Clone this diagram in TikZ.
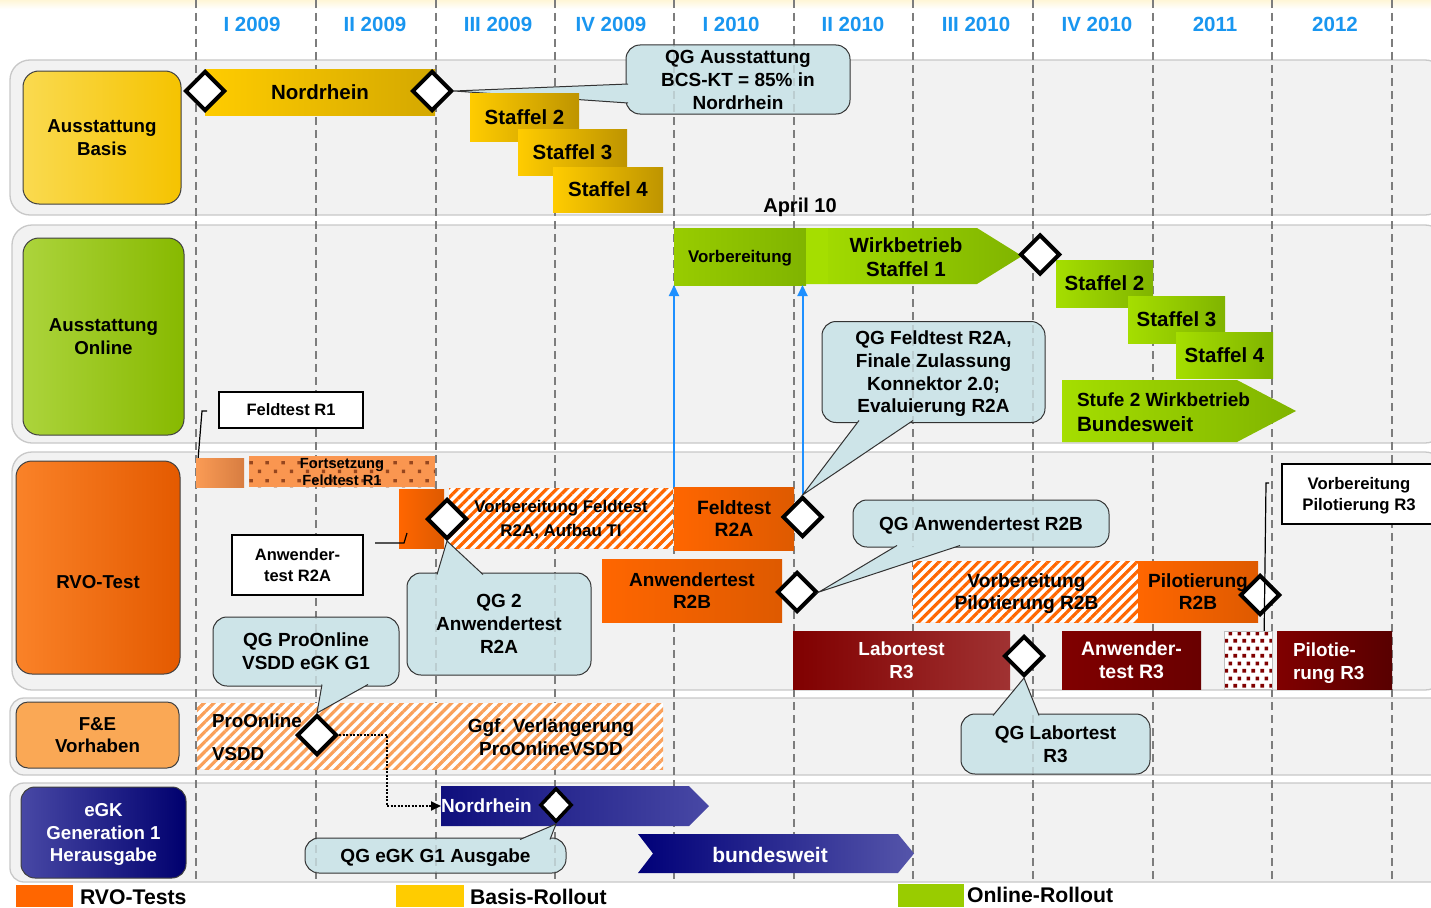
\documentclass[tikz,border=0pt]{standalone}
\usepackage{fontspec}
\setmainfont{Liberation Sans}
\usetikzlibrary{shapes.geometric,arrows.meta,patterns,patterns.meta,calc}
\definecolor{lanefill}{RGB}{242,242,242}
\definecolor{lanebd}{RGB}{200,200,200}
\definecolor{hdrblue}{RGB}{25,150,240}
\definecolor{gridgray}{RGB}{125,125,125}
\definecolor{basisL}{RGB}{250,218,80}
\definecolor{basisR}{RGB}{245,195,0}
\definecolor{yelL}{RGB}{255,204,0}
\definecolor{yelR}{RGB}{212,168,0}
\definecolor{yelR2}{RGB}{190,148,0}
\definecolor{onlL}{RGB}{172,212,60}
\definecolor{onlR}{RGB}{135,185,0}
\definecolor{grnL}{RGB}{165,222,0}
\definecolor{grnR}{RGB}{128,180,0}
\definecolor{grnV}{RGB}{152,204,0}
\definecolor{rvoL}{RGB}{250,130,40}
\definecolor{rvoR}{RGB}{228,90,0}
\definecolor{orL}{RGB}{255,102,0}
\definecolor{orR}{RGB}{222,90,0}
\definecolor{salL}{RGB}{250,155,85}
\definecolor{salR}{RGB}{215,125,65}
\definecolor{salF}{RGB}{250,150,80}
\definecolor{salDot}{RGB}{150,70,30}
\definecolor{feBox}{RGB}{250,168,85}
\definecolor{feHatch}{RGB}{250,160,90}
\definecolor{hatchOr}{RGB}{255,102,0}
\definecolor{cofill}{RGB}{205,228,232}
\definecolor{drL}{RGB}{128,0,0}
\definecolor{drLabR}{RGB}{160,50,50}
\definecolor{drR}{RGB}{105,0,0}
\definecolor{drR2}{RGB}{88,0,0}
\definecolor{navyL}{RGB}{15,15,125}
\definecolor{navyR}{RGB}{72,72,165}
\definecolor{nvtwoL}{RGB}{0,0,120}
\definecolor{nvtwoR}{RGB}{85,85,170}
\definecolor{egkL}{RGB}{72,72,165}
\definecolor{egkR}{RGB}{0,0,110}
\definecolor{arrBlue}{RGB}{30,144,255}
\definecolor{legOr}{RGB}{255,102,0}
\definecolor{legYe}{RGB}{255,204,0}
\definecolor{legGr}{RGB}{153,204,0}
\newcommand\fz[2]{\fontsize{#1}{#2}\selectfont}
\pgfdeclarepatternformonly{orsqdots}{\pgfpointorigin}{\pgfpoint{16pt}{18pt}}{\pgfpoint{16pt}{18pt}}{%
 \pgfpathrectangle{\pgfpoint{2pt}{2pt}}{\pgfpoint{3.5pt}{3.5pt}}%
 \pgfpathrectangle{\pgfpoint{10pt}{11pt}}{\pgfpoint{3.5pt}{3.5pt}}%
 \pgfusepath{fill}}
\pgfdeclarepatternformonly{rdsqdots}{\pgfpointorigin}{\pgfpoint{8.5pt}{14.6pt}}{\pgfpoint{8.5pt}{14.6pt}}{%
 \pgfpathrectangle{\pgfpoint{0.5pt}{0.5pt}}{\pgfpoint{3.8pt}{3.8pt}}%
 \pgfpathrectangle{\pgfpoint{4.75pt}{7.8pt}}{\pgfpoint{3.8pt}{3.8pt}}%
 \pgfusepath{fill}}
\newcommand\gridlines[1][]{\foreach \vx in {196,316,436,555,674,794,913,1033,1153,1272,1392}{\draw[vline,#1] (\vx,0) -- (\vx,880);}}
\newcommand\seethru[1]{\begin{scope}\clip[rounded corners=14pt] (#1.north west) rectangle (#1.south east);\gridlines[opacity=0.22]\end{scope}}
\newcommand\pointer[3]{\fill[cofill] (#1) -- (#2) -- (#3) -- cycle; \draw[coedge] (#1) -- (#2) -- (#3);}
\begin{document}
\begin{tikzpicture}[x=1pt,y=-1pt,
 every node/.style={inner sep=0pt,outer sep=0pt,text depth=-3.5pt,font=\bfseries},
 vline/.style={draw=gridgray,line width=1.8pt,dash pattern=on 8pt off 5pt},
 lane/.style={draw=lanebd,fill=lanefill,line width=1.3pt,rounded corners=20pt,text depth=0pt},
 lanesm/.style={draw=lanebd,fill=lanefill,line width=1.3pt,rounded corners=14pt,text depth=0pt},
 catbox/.style={draw=black!75,line width=1pt,rounded corners=16pt,align=center,font=\bfseries\fz{18.7}{22.5}},
 hdr/.style={text=hdrblue,font=\bfseries\fz{20.5}{24}},
 diam/.style={shape=diamond,draw=black,fill=white,line width=4pt,minimum width=40pt,minimum height=40pt,outer sep=2pt,text depth=0pt},
 diamsm/.style={shape=diamond,draw=black,fill=white,line width=3.5pt,minimum width=32pt,minimum height=34pt,outer sep=2pt,text depth=0pt},
 callout/.style={draw=black!80,line width=1pt,fill=cofill,rounded corners=14pt,align=center,font=\bfseries\fz{19}{23}},
 coedge/.style={draw=black!80,line width=1pt},
 whitebox/.style={draw=black,line width=1.5pt,fill=white,align=center,font=\bfseries\fz{16.5}{21}},
 hatchbox/.style={preaction={fill=white},pattern={Lines[angle=45,distance=7pt,line width=3.2pt]},pattern color=hatchOr,align=center},
 bigtxt/.style={align=center,font=\bfseries\fz{20.5}{24}},
 barrow/.style={draw=arrBlue,line width=2pt,-{Triangle[length=11pt,width=10pt]}},
 brk/.style={draw=black,line width=1.2pt},
 dotarrow/.style={draw=black,line width=2pt,dash pattern=on 2pt off 1.5pt,-{Triangle[length=10pt,width=9pt]}},
 leg/.style={minimum height=22pt,text depth=0pt},
 legtxt/.style={anchor=west,font=\bfseries\fz{21.2}{24}}
]
\useasboundingbox (0,0) rectangle (1431,907);
\clip (0,0) rectangle (1431,907);
\fill[white] (0,0) rectangle (1431,907);
\shade[top color={rgb,255:red,255;green,246;blue,215},bottom color=white] (0,0) rectangle (1431,9);

% lanes
\node[lane,minimum width=1435,minimum height=155] (lane1) at (727.5,137.5) {};
\node[lane,minimum width=1433,minimum height=218] (lane2) at (728.5,334) {};
\node[lane,minimum width=1433,minimum height=238] (lane3) at (728.5,571) {};
\node[lanesm,minimum width=1435,minimum height=77] (lane4) at (727.5,736.5) {};
\node[lanesm,minimum width=1435,minimum height=99] (lane5) at (727.5,832.5) {};

\gridlines

% headers
\node[hdr] (h1) at (252,24) {I 2009};
\node[hdr] (h2) at (375,24) {II 2009};
\node[hdr] (h3) at (498,24) {III 2009};
\node[hdr] (h4) at (611,24) {IV 2009};
\node[hdr] (h5) at (731,24) {I 2010};
\node[hdr] (h6) at (853,24) {II 2010};
\node[hdr] (h7) at (976,24) {III 2010};
\node[hdr] (h8) at (1097,24) {IV 2010};
\node[hdr] (h9) at (1215,24) {2011};
\node[hdr] (h10) at (1335,24) {2012};

% category boxes
\node[catbox,left color=basisL,right color=basisR,minimum width=158,minimum height=133] (basis) at (102,137.5) {Ausstattung\\Basis};
\node[catbox,left color=onlL,right color=onlR,minimum width=161,minimum height=197] (online) at (103.5,336.5) {Ausstattung\\Online};
\node[catbox,left color=rvoL,right color=rvoR,minimum width=164,minimum height=213,text depth=0pt] (rvo) at (98,567.5) {};
\node[font=\bfseries\fz{18.7}{22.5}] (rvot) at (98,582) {RVO-Test};
\node[catbox,rounded corners=12pt,fill=feBox,minimum width=163,minimum height=66] (fe) at (97.5,735) {F\&E\\Vorhaben};
\node[catbox,rounded corners=14pt,left color=egkL,right color=egkR,text=white,minimum width=165,minimum height=91] (egk) at (103.5,832.5) {eGK\\Generation 1\\Herausgabe};

% ---- lane 1: Ausstattung Basis
\node[left color=yelL,right color=yelR,minimum width=230,minimum height=46,font=\bfseries\fz{20.5}{24}] (nordb) at (320,92) {Nordrhein};
\node[diam] (d1) at (205,91) {};
\node[diam] (d2) at (432,91) {};
\node[callout,minimum width=224,minimum height=69] (qg1) at (738,79.5) {QG Ausstattung\\BCS-KT = 85\% in\\Nordrhein};
\coordinate (qg1a) at (628,84);
\coordinate (qg1b) at (628,103);
\pointer{qg1a}{d2.east}{qg1b}
\seethru{qg1}
\node[left color=yelL,right color=yelR2,minimum width=109,minimum height=48,font=\bfseries\fz{20.5}{24}] (bs2) at (524.5,117) {Staffel 2};
\node[left color=yelL,right color=yelR2,minimum width=109,minimum height=46,font=\bfseries\fz{20.5}{24}] (bs3) at (572.5,152) {Staffel 3};
\node[left color=yelL,right color=yelR2,minimum width=110,minimum height=45,font=\bfseries\fz{20.5}{24}] (bs4) at (608,189.5) {Staffel 4};

% ---- lane 2: Ausstattung Online
\node[font=\bfseries\fz{20}{24}] (april) at (800,205) {April 10};
\node[left color=grnV,right color=grnR,minimum width=132,minimum height=57,font=\bfseries\fz{16.9}{20}] (vorb) at (740,256.5) {Vorbereitung};
\shade[left color=grnL,right color=grnR] (806,228) -- (977,228) -- (1022,256) -- (977,284) -- (806,284) -- cycle;
\fill[grnL] (806,228) rectangle (828,284);
\node[bigtxt] (wirk) at (906,257) {Wirkbetrieb\\Staffel 1};
\node[left color=grnL,right color=grnR,minimum width=97,minimum height=47,font=\bfseries\fz{20.5}{24}] (gs2) at (1104.5,283.5) {Staffel 2};
\node[left color=grnL,right color=grnR,minimum width=97,minimum height=47,font=\bfseries\fz{20.5}{24}] (gs3) at (1176.5,319.5) {Staffel 3};
\node[left color=grnL,right color=grnR,minimum width=97,minimum height=46,font=\bfseries\fz{20.5}{24}] (gs4) at (1224.5,355) {Staffel 4};
\node[diam] (d3) at (1040,254.5) {};
\shade[left color=grnL,right color=grnR] (1062,380) -- (1237,380) -- (1296,411) -- (1237,442) -- (1062,442) -- cycle;
\node[anchor=west,font=\bfseries\fz{19}{22}] (stufea) at (1077,400) {Stufe 2 Wirkbetrieb};
\node[anchor=west,font=\bfseries\fz{20.7}{24}] (stufeb) at (1077,424) {Bundesweit};
\node[whitebox,minimum width=144,minimum height=36] (fr1box) at (291,410) {Feldtest R1};
\coordinate (fr1s) at (207,411);
\coordinate (fr1e) at (197,472);
\draw[brk] (fr1s) -- ++(-5,0) -- (fr1e);

% ---- lane 3: RVO-Test
\node[left color=salL,right color=salR,minimum width=48,minimum height=29] (fr1blk) at (220,472.5) {};
\node[preaction={fill=salF},pattern=orsqdots,pattern color=salDot,minimum width=186,minimum height=31,align=center,font=\bfseries\fz{14.7}{17}] (fort) at (342,471.5) {Fortsetzung\\Feldtest R1};
\node[left color=orL,right color=orR,minimum width=45,minimum height=59] (ar2a) at (421.5,518.5) {};
\node[hatchbox,minimum width=224,minimum height=60,font=\bfseries\fz{16.9}{24}] (vft) at (561,518) {Vorbereitung Feldtest\\R2A, Aufbau TI};
\node[diam] (d4) at (447,519) {};
\node[whitebox,minimum width=131,minimum height=60] (aw2a) at (297.5,565) {Anwender-\\test R2A};
\coordinate (aw2s) at (375,543);
\coordinate (aw2e) at (407,533);
\draw[brk] (aw2s) -- (404,543) -- (aw2e);
\node[left color=orL,right color=orR,minimum width=120,minimum height=63,align=center,font=\bfseries\fz{19.3}{22}] (ft2a) at (734,518.5) {Feldtest\\R2A};
\node[diam] (d5) at (802.5,517) {};
\node[left color=orL,right color=orR,minimum width=180,minimum height=63,align=center,font=\bfseries\fz{19}{22}] (ar2b) at (692,590.5) {Anwendertest\\R2B};
\node[diam] (d6) at (797,592) {};
\node[hatchbox,minimum width=227,minimum height=61,font=\bfseries\fz{19.2}{21.5}] (vpr2b) at (1026.5,591.5) {Vorbereitung\\Pilotierung R2B};
\node[left color=orL,right color=orR,minimum width=120,minimum height=61,align=center,font=\bfseries\fz{19.1}{21.5}] (pr2b) at (1198,591.5) {Pilotierung\\R2B};
\node[diam] (d7) at (1260,595) {};
\node[whitebox,minimum width=154,minimum height=60,font=\bfseries\fz{16.7}{20.5}] (vpr3) at (1359,494) {Vorbereitung\\Pilotierung R3};
\coordinate (vp3s) at (1269,483);
\coordinate (vp3e) at (1264,645);
\draw[brk] (vp3s) -- ++(-3,0) -- (vp3e);
\node[left color=drL,right color=drLabR,minimum width=217,minimum height=58,align=center,text=white,font=\bfseries\fz{18.9}{22.5}] (lab3) at (901.5,660) {Labortest\\R3};
\node[diam] (d8) at (1024,656) {};
\node[left color=drL,right color=drR,minimum width=139,minimum height=58,align=center,text=white,font=\bfseries\fz{19.5}{22.5}] (aw3) at (1131.5,660) {Anwender-\\test R3};
\node[preaction={fill=white},pattern=rdsqdots,pattern color=drL,minimum width=48,minimum height=58] (dots3) at (1248,660) {};
\draw[draw=black!25,line width=1pt] (dots3.north west) rectangle (dots3.south east);
\node[left color=drL,right color=drR2,minimum width=115,minimum height=58] (pil3) at (1334.5,660) {};
\node[anchor=west,align=left,text=white,font=\bfseries\fz{18.9}{22.5}] (pil3t) at (1293,661) {Pilotie-\\rung R3};

% blue arrows
\draw[barrow] (ft2a.north west) -- (ft2a.north west |- vorb.south);
\draw[barrow] (d5.north) -- (d5.north |- vorb.south);

% ---- lane 4: F&E
\node[hatchbox,pattern color=feHatch,minimum width=466,minimum height=66] (pov) at (430,736) {};
\node[anchor=west,font=\bfseries\fz{18.8}{22}] (pola) at (212,721) {ProOnline};
\node[anchor=west,font=\bfseries\fz{18.8}{22}] (polb) at (212,754) {VSDD};
\node[align=center,font=\bfseries\fz{19}{23}] (ggf) at (551,737.5) {Ggf. Verlängerung\\ProOnlineVSDD};
\node[diam] (d9) at (317,735) {};

% ---- lane 5: eGK
\shade[left color=navyL,right color=navyR] (441,786) -- (689,786) -- (709,806) -- (689,826) -- (441,826) -- cycle;
\node[anchor=west,text=white,font=\bfseries\fz{19}{22}] (egkn) at (441,806) {Nordrhein};
\node[diamsm] (d10) at (556,805) {};
\shade[left color=nvtwoL,right color=nvtwoR] (638,834) -- (898,834) -- (914,853.5) -- (898,873) -- (638,873) -- (653,853.5) -- cycle;
\node[text=white,font=\bfseries\fz{21}{24}] (bund) at (770,855) {bundesweit};
\draw[dotarrow] (d9.east) -- ++(48,0) |- (egkn.west);

% ---- callouts
\node[callout,minimum width=184,minimum height=102] (qg2) at (499,624) {QG 2\\Anwendertest\\R2A};
\coordinate (qg2a) at (437,574.5);
\coordinate (qg2b) at (483,574.5);
\pointer{qg2a}{d4.south}{qg2b}
\seethru{qg2}

\node[callout,minimum width=223,minimum height=101,font=\bfseries\fz{19}{22.7}] (qgf) at (933.5,372) {QG Feldtest R2A,\\Finale Zulassung\\Konnektor 2.0;\\Evaluierung R2A};
\coordinate (qgfa) at (859,420.5);
\coordinate (qgfb) at (913,420.5);
\pointer{qgfa}{d5.north}{qgfb}
\seethru{qgf}

\node[callout,minimum width=256,minimum height=47] (qgr2b) at (981,523.5) {QG Anwendertest R2B};
\coordinate (qgr2ba) at (897,545.5);
\coordinate (qgr2bb) at (960,545.5);
\pointer{qgr2ba}{d6.east}{qgr2bb}
\seethru{qgr2b}

\node[callout,minimum width=189,minimum height=60] (qglab) at (1055.5,744) {QG Labortest\\R3};
\coordinate (qglaba) at (993,715.5);
\coordinate (qglabb) at (1039,715.5);
\pointer{qglaba}{d8.south}{qglabb}
\seethru{qglab}

\node[callout,minimum width=186,minimum height=69] (qgpro) at (306,651.5) {QG ProOnline\\VSDD eGK G1};
\coordinate (qgproa) at (322,684.5);
\coordinate (qgprob) at (368,684.5);
\pointer{qgproa}{d9.north}{qgprob}
\seethru{qgpro}

\node[callout,minimum width=261,minimum height=35] (qgegk) at (435.5,855.5) {QG eGK G1 Ausgabe};
\coordinate (qgegka) at (520,839.5);
\coordinate (qgegkb) at (550,839.5);
\pointer{qgegka}{d10.south}{qgegkb}
\seethru{qgegk}

% legend
\node[leg,fill=legOr,minimum width=57] (lg1) at (44.5,896) {};
\node[legtxt] (lg1t) at (80,897) {RVO-Tests};
\node[leg,fill=legYe,minimum width=68] (lg2) at (430,896) {};
\node[legtxt] (lg2t) at (470,897) {Basis-Rollout};
\node[leg,fill=legGr,minimum width=66,minimum height=23] (lg3) at (931,895.5) {};
\node[legtxt] (lg3t) at (967,895) {Online-Rollout};
\end{tikzpicture}
\end{document}
